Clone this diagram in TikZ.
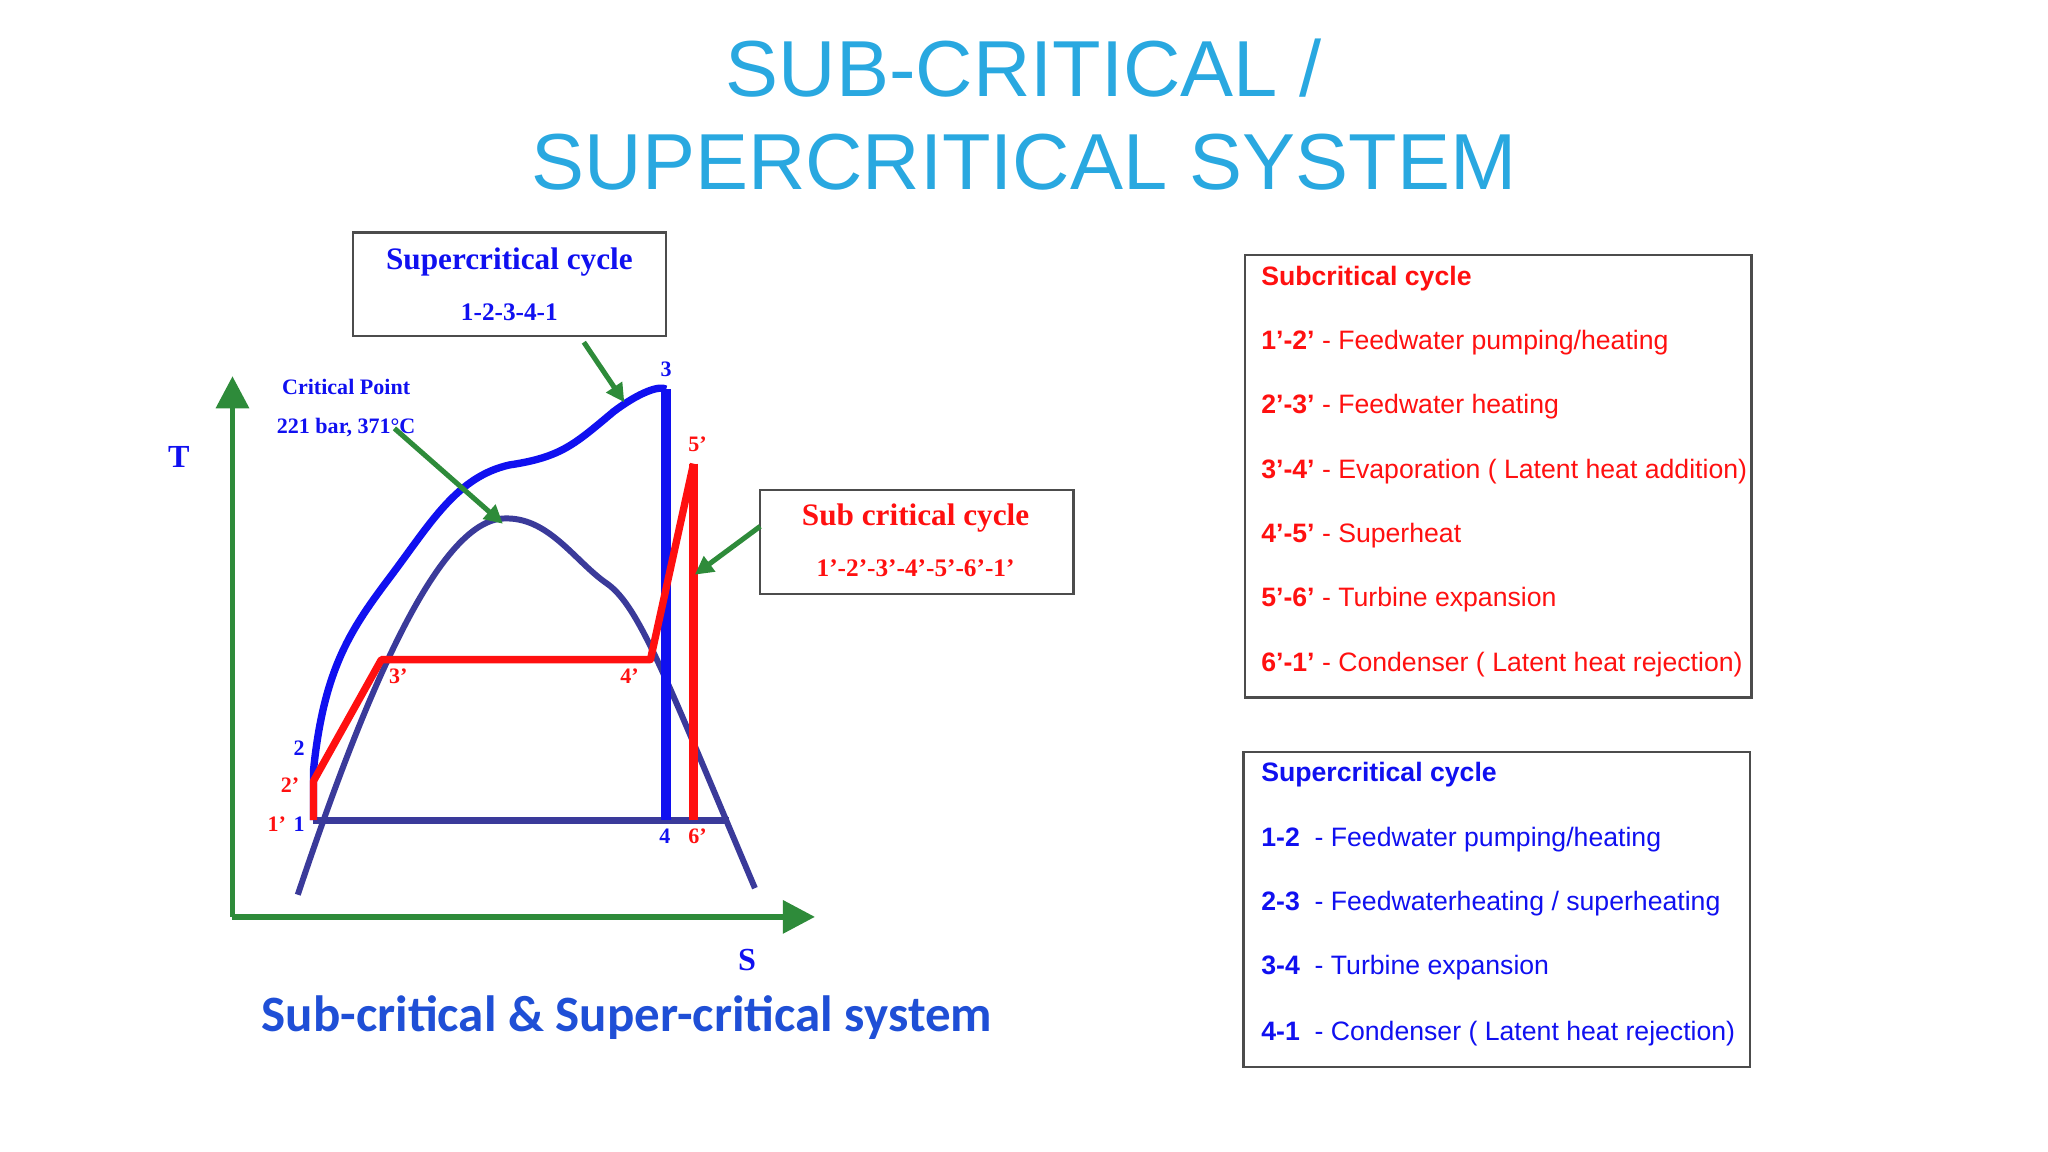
\documentclass[tikz,border=0pt]{standalone}
\usepackage{fontspec}
\setmainfont{Liberation Serif}
\setsansfont{Liberation Sans}
\newfontfamily\carfont{Carlito}
\usetikzlibrary{arrows.meta}
\definecolor{ttl}{HTML}{29A8E0}
\definecolor{grn}{HTML}{2E8B3A}
\definecolor{navy}{HTML}{3A3A9A}
\definecolor{bl}{HTML}{1010F0}
\definecolor{rd}{HTML}{FF1010}
\definecolor{capb}{HTML}{1F4FD6}
\tikzset{
  lbl/.style={font=\fontsize{4.8pt}{5pt}\selectfont\bfseries, inner sep=0pt},
  boxr/.style={draw=black!70, line width=0.5pt},
  garr/.style={draw=grn, line width=1.1pt, -{Triangle[length=4pt,width=4pt]}},
  lt/.style={anchor=west, inner sep=0pt, font=\sffamily\fontsize{5.8pt}{6pt}\selectfont},
}
\begin{document}
\begin{tikzpicture}[x=0.01cm,y=-0.01cm]
\useasboundingbox (0,0) rectangle (1568,882);
% title
\node[text=ttl, font=\sffamily\fontsize{17.3pt}{18pt}\selectfont] (t1) at (784,52) {SUB-CRITICAL /};
\node[text=ttl, font=\sffamily\fontsize{17.3pt}{18pt}\selectfont] (t2) at (784,124) {SUPERCRITICAL SYSTEM};
% axes
\coordinate (o) at (178,702);
\coordinate (ty) at (178,288);
\coordinate (sx) at (624,702);
\draw[grn, line width=1.3pt, -{Triangle[length=7pt,width=7pt]}] (o) -- (ty);
\draw[grn, line width=1.3pt, -{Triangle[length=7pt,width=7pt]}] (o) -- (sx);
\node[text=bl, font=\fontsize{7pt}{8pt}\selectfont\bfseries] (T) at (137,350) {T};
\node[text=bl, font=\fontsize{7pt}{8pt}\selectfont\bfseries] (S) at (572,735) {S};
% dome
\draw[navy, line width=1.3pt] (228,685) .. controls (270,560) and (330,400) .. (385,397)
  .. controls (420,395) and (440,430) .. (465,447) .. controls (490,465) and (510,520) .. (578,680);
% bottom line
\draw[navy, line width=1.6pt] (240,628) -- (558,628);
% supercritical
\draw[bl, line width=1.6pt] (240,628) -- (240,590) .. controls (248,510) and (270,480) .. (300,440)
  .. controls (330,400) and (350,365) .. (390,356) .. controls (430,350) and (440,340) .. (470,315) .. controls (490,300) and (505,295) .. (510,298);
\draw[bl, line width=2.3pt] (510,298) -- (510,628);
% subcritical
\draw[rd, line width=1.6pt, line join=round] (240,628) -- (240,598) -- (292,505) -- (498,505) -- (531,355);
\draw[rd, line width=2pt] (531,355) -- (531,628);
% point labels
\node[lbl, text=bl] (p3) at (510,283) {3};
\node[lbl, text=rd] (p5) at (534,340) {5'};
\node[lbl, text=rd] (p3p) at (305,518) {3'};
\node[lbl, text=rd] (p4p) at (482,518) {4'};
\node[lbl, text=bl] (p2) at (229,573) {2};
\node[lbl, text=rd] (p2p) at (222,601) {2'};
\node[lbl, text=rd] (p1p) at (212,631) {1'};
\node[lbl, text=bl] (p1) at (229,631) {1};
\node[lbl, text=bl] (p4) at (509,640) {4};
\node[lbl, text=rd] (p6) at (534,640) {6'};
% critical point
\node[text=bl, font=\fontsize{4.8pt}{5pt}\selectfont\bfseries, inner sep=0pt] (cp1) at (265,296) {Critical Point};
\node[text=bl, font=\fontsize{4.8pt}{5pt}\selectfont\bfseries, inner sep=0pt] (cp2) at (265,327) {221 bar, 371°C};
\coordinate (cpa) at (302,328);
\coordinate (cpb) at (385,401);
\draw[garr] (cpa) -- (cpb);
% supercritical box
\draw[boxr] (270,178) rectangle (510,257);
\node[text=bl, font=\fontsize{6.8pt}{7pt}\selectfont\bfseries] (sb1) at (390,201) {Supercritical cycle};
\node[text=bl, font=\fontsize{5.5pt}{6pt}\selectfont\bfseries] (sb2) at (390,239) {1-2-3-4-1};
\coordinate (sa) at (447,262);
\coordinate (sbb) at (478,308);
\draw[garr] (sa) -- (sbb);
% subcritical box
\draw[boxr] (582,375) rectangle (822,455);
\node[text=rd, font=\fontsize{6.8pt}{7pt}\selectfont\bfseries] (cb1) at (701,397) {Sub critical cycle};
\node[text=rd, font=\fontsize{5.5pt}{6pt}\selectfont\bfseries] (cb2) at (701,435) {1'-2'-3'-4'-5'-6'-1'};
\coordinate (ca) at (582,403);
\coordinate (cbb) at (532,440);
\draw[garr] (ca) -- (cbb);
% caption
\node[text=capb, font=\carfont\bfseries\fontsize{11.1pt}{12pt}\selectfont] (cap) at (480,779) {Sub-critical \& Super-critical system};
% right box 1
\draw[boxr] (953,195) rectangle (1341,534);
\begin{scope}[every node/.style={lt, text=rd}]
\node (r0) at (965,213) {\bfseries Subcritical cycle};
\node (r1) at (965,262) {\bfseries 1'-2'\mdseries\ - Feedwater pumping/heating};
\node (r2) at (965,311) {\bfseries 2'-3'\mdseries\ - Feedwater heating};
\node (r3) at (965,361) {\bfseries 3'-4'\mdseries\ - Evaporation ( Latent heat addition)};
\node (r4) at (965,410) {\bfseries 4'-5'\mdseries\ - Superheat};
\node (r5) at (965,459) {\bfseries 5'-6'\mdseries\ - Turbine expansion};
\node (r6) at (965,509) {\bfseries 6'-1'\mdseries\ - Condenser ( Latent heat rejection)};
\end{scope}
% right box 2
\draw[boxr] (952,576) rectangle (1340,817);
\begin{scope}[every node/.style={lt, text=bl}]
\node (b0) at (965,593) {\bfseries Supercritical cycle};
\node (b1) at (965,643) {\bfseries 1-2\ \ \mdseries - Feedwater pumping/heating};
\node (b2) at (965,692) {\bfseries 2-3\ \ \mdseries - Feedwaterheating / superheating};
\node (b3) at (965,741) {\bfseries 3-4\ \ \mdseries - Turbine expansion};
\node (b4) at (965,791) {\bfseries 4-1\ \ \mdseries - Condenser ( Latent heat rejection)};
\end{scope}
\end{tikzpicture}
\end{document}
